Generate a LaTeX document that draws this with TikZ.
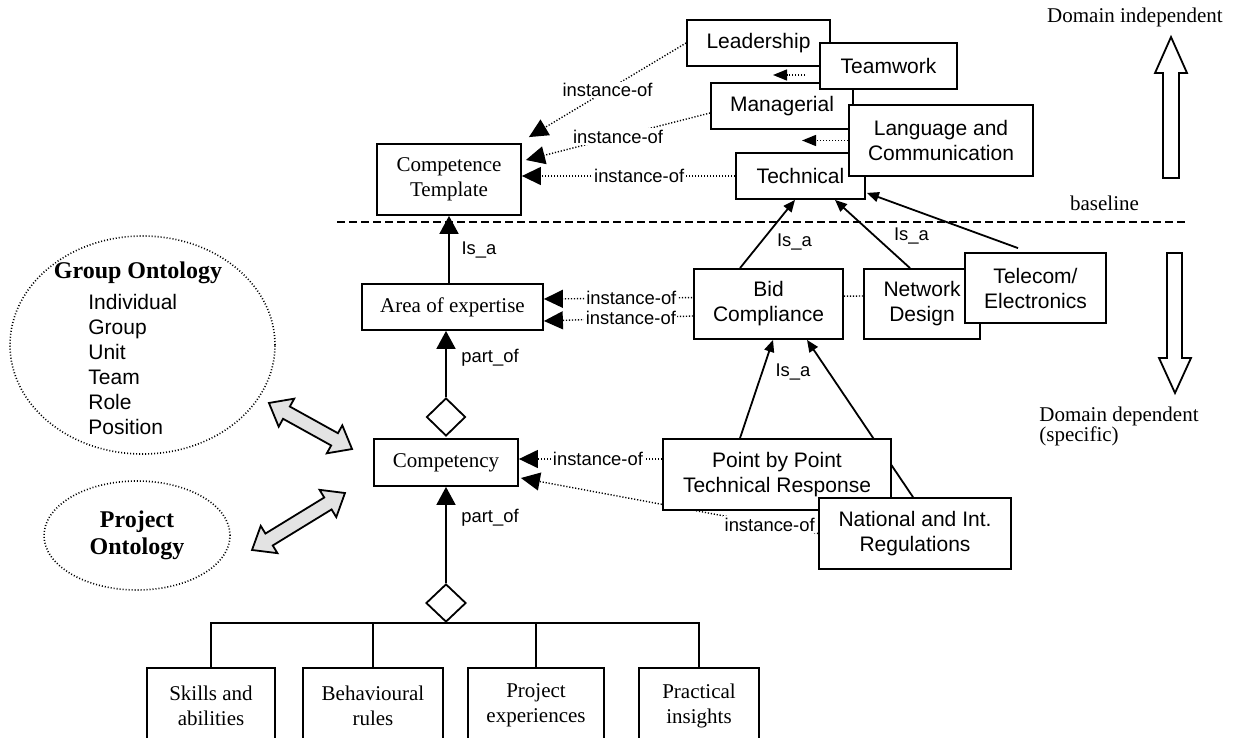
\documentclass[tikz,border=0pt]{standalone}
\usepackage{fontspec}
\setmainfont{Liberation Serif}
\setsansfont{Liberation Sans}
\usetikzlibrary{arrows.meta,shapes.geometric,backgrounds}

\begin{document}
\begin{tikzpicture}[x=0.5pt,y=-0.5pt,
  box/.style={draw,line width=0.9pt,fill=white,align=center,inner sep=0pt},
  sbox/.style={box,font=\sffamily\fontsize{10.5}{12.5}\selectfont},
  rbox/.style={box,font=\rmfamily\fontsize{10.5}{12.5}\selectfont},
  lbl/.style={font=\sffamily\fontsize{9.2}{11}\selectfont,inner sep=0.8pt},
  onlbl/.style={lbl,fill=white},
  rtxt/.style={font=\rmfamily\fontsize{10.5}{10}\selectfont,inner sep=0pt},
  dots/.style={line width=0.7pt,dash pattern=on 0.6pt off 0.9pt},
  instof/.style={dots,-{Triangle[length=9.5pt,width=9pt]}},
  instsm/.style={dots,-{Triangle[length=7pt,width=5.5pt]}},
  isa/.style={line width=0.9pt,-{Triangle[length=6pt,width=5pt]}},
  bigisa/.style={line width=0.9pt,-{Triangle[length=9pt,width=9.5pt]}},
  onto/.style={ellipse,draw,line width=0.8pt,dash pattern=on 0.5pt off 1pt,inner sep=0pt},
  dblarr/.style={draw,line width=0.9pt,fill=gray!22,line join=miter}]
  \useasboundingbox (0,0) rectangle (1236,738);
  \clip (0,0) rectangle (1236,738);

  % Domain independent competences
  \node[sbox,minimum width=71.5pt,minimum height=23pt] (lead) at (758.5,43) {Leadership};
  \node[sbox,minimum width=71pt,minimum height=23pt] (manag) at (782,106) {Managerial};
  \node[sbox,minimum width=64.5pt,minimum height=23pt] (tech) at (800.5,176) {Technical};
  \node[sbox,minimum width=68.5pt,minimum height=23pt] (team) at (888.5,66) {Teamwork};
  \node[sbox,minimum width=92pt,minimum height=35.5pt] (lang) at (941,140.5) {Language and\\Communication};
  \node[rbox,minimum width=72pt,minimum height=35.5pt] (ctempl) at (449,179.5) {Competence\\Template};
  \coordinate (tw) at (773,75);
  \coordinate (lw) at (802,140.5);

  % Domain dependent competences
  \node[rbox,minimum width=90.5pt,minimum height=23pt] (area) at (452.5,307) {Area of expertise};
  \node[sbox,minimum width=74.5pt,minimum height=35pt] (bid) at (768.5,304) {Bid\\Compliance};
  \node[sbox,minimum width=58pt,minimum height=35pt] (netw) at (922,304) {Network\\Design};
  \node[sbox,minimum width=70.5pt,minimum height=35pt] (telec) at (1035.5,288) {Telecom/\\Electronics};
  \node[rbox,minimum width=72pt,minimum height=23.5pt] (compet) at (446,462.5) {Competency};
  \node[sbox,minimum width=114pt,minimum height=35.5pt] (point) at (777,474.5) {Point by Point\\Technical Response};
  \node[sbox,minimum width=96pt,minimum height=35.5pt] (natl) at (915,533.5) {National and Int.\\Regulations};
  \coordinate (pw) at ([yshift=7.75pt]point.west);

  % Aggregation diamonds and parts
  \node[box,diamond,minimum width=19.5pt,minimum height=19pt] (dia1) at (446,417) {};
  \node[box,diamond,minimum width=20pt,minimum height=19pt] (dia2) at (446,603) {};
  \foreach \nm/\x/\w/\txt in {skills/211/64/{Skills and\\abilities},
      behav/373/70/{Behavioural\\rules},
      projx/536/68/{Project\\experiences},
      pract/699/60/{Practical\\insights}}
    \node[rbox,minimum width=\w pt,minimum height=37.5pt] (\nm) at (\x,705.5) {\txt};

  % Ontologies
  \node[onto,minimum width=132.5pt,minimum height=109pt] (grp) at (142.5,345) {};
  \node[font=\bfseries\fontsize{12}{13.5}\selectfont,inner sep=0pt] (grptitle) at (138,273) {Group Ontology};
  \node[font=\sffamily\fontsize{10.5}{12.5}\selectfont,anchor=west,align=left,inner sep=0pt] (grplist) at (88,364.5)
    {Individual\\Group\\Unit\\Team\\Role\\Position};
  \node[onto,minimum width=93pt,minimum height=54.5pt,align=center,
    font=\bfseries\fontsize{12}{13.5}\selectfont] (proj) at (137,535.5) {Project\\Ontology};

  % two-way block arrows: centre / angle / half length
  \foreach \cx/\cy/\ang/\hl in {310.5/426/-29/47.5, 298.5/521.5/31.5/54.5}
    \draw[dblarr,shift={(\cx,\cy)},rotate=\ang]
      (-\hl,0) -- (-\hl+20,16) -- (-\hl+20,7) -- (\hl-20,7) -- (\hl-20,16) -- (\hl,0)
      -- (\hl-20,-16) -- (\hl-20,-7) -- (-\hl+20,-7) -- (-\hl+20,-16) -- cycle;

  % Connectors
  \begin{scope}[on background layer]
    \draw[instof] (lead.west) -- node[onlbl]{instance-of} ([xshift=3.5pt,yshift=3pt]ctempl.north east);
    \draw[instof] ([yshift=-3.5pt]manag.west) -- node[onlbl]{instance-of} ([xshift=2pt,yshift=9.75pt]ctempl.east);
    \draw[instof] (tech.west) -- node[onlbl,pos=0.45]{instance-of} (tech.west -| ctempl.east);
    \draw[instsm,shorten <=7pt] ([yshift=-4.5pt]team.west) -- (tw);
    \draw[instsm] (lang.west) -- (lw);
    \draw[instof] ([yshift=4pt]netw.west) -- node[onlbl,pos=0.726]{instance-of} ([yshift=4pt]area.east);
    \draw[instof] ([yshift=-6pt]bid.west) -- node[onlbl,pos=0.417]{instance-of} ([yshift=-7pt]area.east);
    \draw[instof] (pw) -- node[onlbl,pos=0.448]{instance-of} (pw -| compet.east);
    \draw[instof] (natl.west) -- node[onlbl,pos=0.163]{instance-of} ([xshift=1pt,yshift=-7.75pt]compet.east);

    \draw[bigisa] (ctempl.south |- area.north) -- (ctempl.south);
    \draw[bigisa] (dia1.north) -- (dia1.north |- area.south);
    \draw[bigisa] (dia2.north) -- (dia2.north |- compet.south);
    \draw[isa] ([xshift=-14.25pt]bid.north) -- ([xshift=-2.75pt]tech.south);
    \draw[isa] ([xshift=-6pt]netw.north) -- ([xshift=17.25pt]tech.south);
    \draw[isa] ([xshift=-8.75pt,yshift=2pt]telec.north) -- ([xshift=0.5pt,yshift=3.5pt]tech.south east);
    \draw[isa] ([xshift=-18.5pt]point.north) -- ([xshift=2.25pt]bid.south);
    \draw[isa] ([xshift=-1pt]natl.north) -- ([xshift=19.25pt]bid.south);

    % bus to the parts
    \draw[line width=0.9pt] (skills.north) |- (dia2.south) -| (pract.north);
    \foreach \nm in {behav,projx}
      \draw[line width=0.9pt] (\nm.north) -- (\nm.north |- dia2.south);
  \end{scope}

  % Relation labels
  \node[lbl] (isa1) at (479,250) {Is\_a};
  \node[lbl] (isa2) at (794.5,242) {Is\_a};
  \node[lbl] (isa3) at (911.5,236) {Is\_a};
  \node[lbl] (isa4) at (793,372) {Is\_a};
  \node[lbl] (part1) at (490,358) {part\_of};
  \node[lbl] (part2) at (490,518) {part\_of};

  % Baseline and domain arrows
  \draw[line width=0.9pt,dash pattern=on 4pt off 2pt] (337,222) -- (1187,222);
  \node[rtxt] (dindep) at (1135,17) {Domain independent};
  \node[rtxt] (bline) at (1104.5,203) {baseline};
  \node[rtxt,align=left,anchor=west] (ddep) at (1039,426) {Domain dependent\\(specific)};
  \draw[line width=0.9pt] (1163,178) -- (1163,73) -- (1155,73) -- (1171,37)
    -- (1187,73) -- (1179,73) -- (1179,178) -- cycle;
  \draw[line width=0.9pt] (1167,253) -- (1167,358) -- (1159,358) -- (1175,393)
    -- (1191,358) -- (1182,358) -- (1182,253) -- cycle;
\end{tikzpicture}
\end{document}
